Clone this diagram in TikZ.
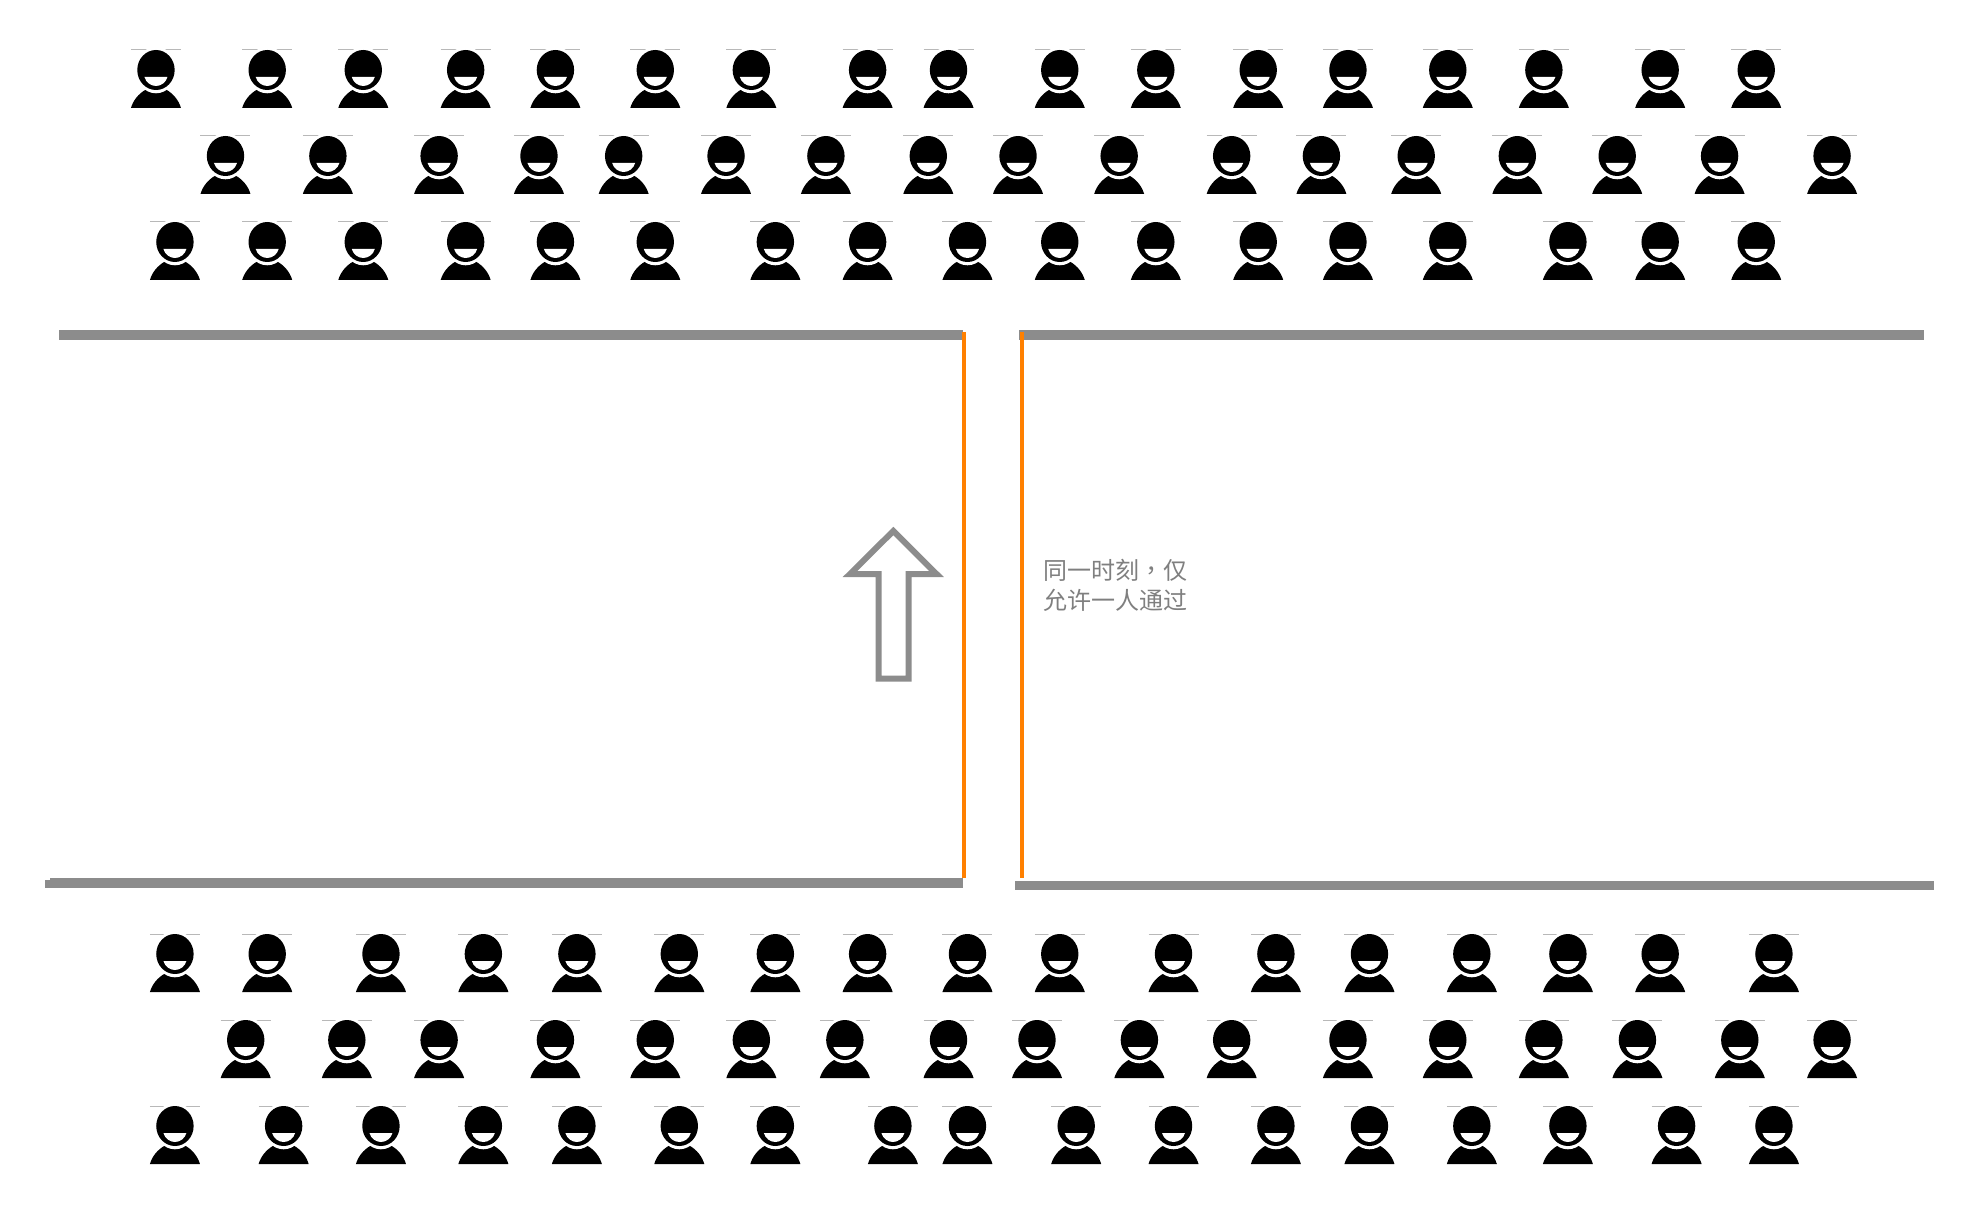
\documentclass[tikz,border=0pt]{standalone}
\usepackage{fontspec}
\newfontfamily\cjk{Noto Sans CJK SC}
\newfontfamily\cjkpunct{Noto Sans CJK TC}
\definecolor{bargrey}{HTML}{8C8C8C}
\definecolor{doororange}{HTML}{FF8000}
\definecolor{textgrey}{HTML}{7F7F7F}
\definecolor{capgrey}{HTML}{B8B8B8}
\tikzset{
  bar/.style={fill=bargrey,draw=none},
  door/.style={fill=doororange,draw=none},
  flowarrow/.style={draw=bargrey,line width=6pt,fill=white,miter limit=10},
  caption/.style={font=\cjk\fontsize{24}{30}\selectfont,text=textgrey,align=left,inner sep=0pt,anchor=north west},
  person/.pic={
    \draw[capgrey,line width=1pt] (-25,0) -- (25,0);
    \fill[black] (-25,58) .. controls (-23,51) and (-18,44) .. (-10,39.5) -- (10,39.5) .. controls (18,44) and (23,51) .. (25,58) -- cycle;
    \fill[white] (0,20) ellipse [x radius=20.5,y radius=23.3];
    \fill[black] (0,20) ellipse [x radius=18.7,y radius=20];
    \fill[white] (-11.5,27) .. controls (-10,32.5) and (-5,36) .. (0,36) .. controls (5,36) and (10,32.5) .. (11.5,27) -- cycle;
  }
}
\begin{document}
\begin{tikzpicture}[x=1pt,y=-1pt]
\useasboundingbox (0,0) rectangle (1982,1214);
% people: centres given in 1568-wide units, scaled to the full width
\foreach \rowy/\xs in {
  50/{123,211,287,368,439,518,594,686,750,838,914,995,1066,1145,1221,1313,1389},
  136/{178,259,347,426,493,574,653,734,805,885,974,1045,1120,1200,1279,1360,1449},
  222/{138,211,287,368,439,518,613,686,765,838,914,995,1066,1145,1240,1313,1389},
  934/{138,211,301,382,456,537,613,686,765,838,928,1009,1083,1164,1240,1313,1403},
  1020/{194,274,347,439,518,594,668,750,820,901,974,1066,1145,1221,1295,1376,1449},
  1106/{138,224,301,382,456,537,613,706,765,851,928,1009,1083,1164,1240,1326,1403}}{
  \foreach \px in \xs {
    \pgfmathsetmacro{\cx}{\px*1.26403+0.5}
    \pic at (\cx,\rowy) {person};
  }
}
% walls
\fill[bar] (59,330) rectangle (963,340);
\fill[bar] (1019,330) rectangle (1924,340);
\fill[bar] (50,878) rectangle (963,888);
\fill[bar] (45,880) rectangle (50,888);
\fill[bar] (1015,881) rectangle (1934,890);
% doors
\fill[door] (962,332) rectangle (966,878);
\fill[door] (1020,332) rectangle (1024,878);
% arrow
\draw[flowarrow] (893.3,531) -- (936.5,574) -- (908.7,574) -- (908.7,678.7) -- (878.7,678.7) -- (878.7,574) -- (850,574) -- cycle;
% label
\node[caption] (note) at (1043.5,559) {同一时刻{\cjkpunct ，}仅\\允许一人通过};
\end{tikzpicture}
\end{document}
